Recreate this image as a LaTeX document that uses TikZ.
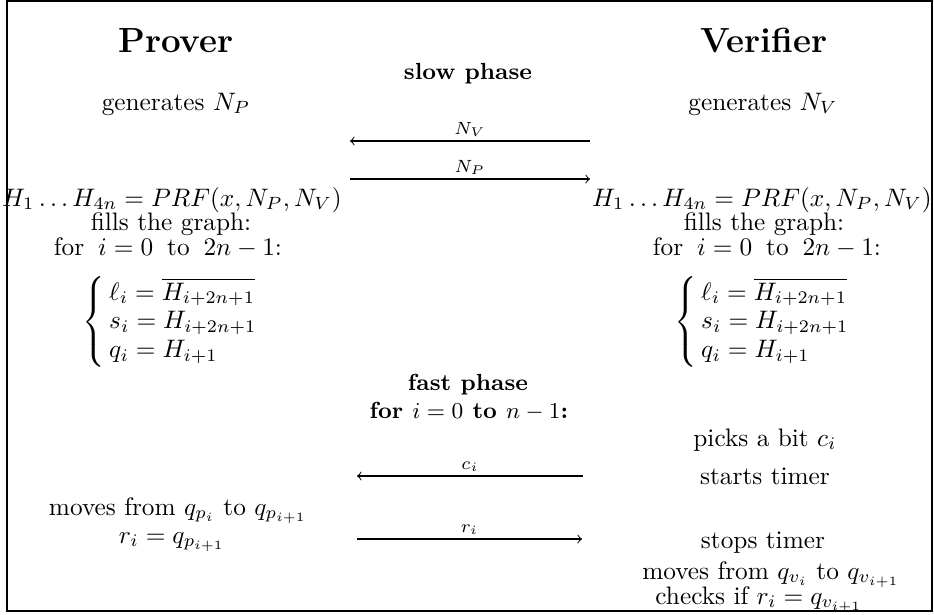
\documentclass[tikz,border=0pt]{standalone}
\usepackage{amsmath}
\newcommand{\graphcases}{$\left\{\,\renewcommand{\arraystretch}{0.95}\begin{array}{@{}l@{}}\ell_i=\overline{H_{i+2n+1}}\\ s_i=H_{i+2n+1}\\ q_i=H_{i+1}\end{array}\right.$}
\newcommand{\forrow}{for\hspace{5.5pt}$i=0$\hspace{5.5pt}to\hspace{5.5pt}$2n-1$:}
\begin{document}
\begin{tikzpicture}[x=0.3953pt,y=-0.3953pt,
  txt/.style={anchor=base,inner sep=0pt,outer sep=0pt},
  ttl/.style={txt,font=\fontsize{13.8}{16}\selectfont\bfseries},
  phase/.style={txt,font=\fontsize{9.2}{11}\selectfont\bfseries},
  msg/.style={->,line width=0.4pt},
  msglbl/.style={font=\scriptsize,inner sep=1.5pt,anchor=south}]
\useasboundingbox (0,0) rectangle (934,615);
\draw[line width=1.15pt] (7,0.5) rectangle (932,611);
% titles
\node[ttl] (prover) at (176,52) {Prover};
\node[ttl] (verifier) at (764,52) {Verifier};
\node[phase] (slow) at (468,79) {slow phase};
\node[txt] (genP) at (176,110) {generates $N_P$};
\node[txt] (genV) at (763,110) {generates $N_V$};
% slow phase messages
\coordinate (nvR) at (590,141);
\coordinate (nvL) at (350,141);
\coordinate (npL) at (350,179);
\coordinate (npR) at (590,179);
\draw[msg] (nvR) -- node[msglbl] (lNV) {$N_V$} (nvL);
\draw[msg] (npL) -- node[msglbl] (lNP) {$N_P$} (npR);
% prover graph
\node[txt] (hP) at (172,206) {$H_1\ldots H_{4n}=PRF(x,N_P,N_V)$};
\node[txt] (fillP) at (171,230) {fills the graph:};
\node[txt] (forP) at (168,255) {\forrow};
\node[inner sep=0pt] (casesP) at (171,322) {\graphcases};
% verifier graph
\node[txt] (hV) at (762,206) {$H_1\ldots H_{4n}=PRF(x,N_P,N_V)$};
\node[txt] (fillV) at (764,230) {fills the graph:};
\node[txt] (forV) at (767,255) {\forrow};
\node[inner sep=0pt] (casesV) at (763,322) {\graphcases};
% fast phase
\node[phase] (fast) at (468,390) {fast phase};
\node[phase] (loop) at (469,418) {for $i=0$ to $n-1$:};
\node[txt] (pick) at (765,446) {picks a bit $c_i$};
\node[txt] (start) at (765,484) {starts timer};
\coordinate (ciR) at (583,476);
\coordinate (ciL) at (357,476);
\draw[msg] (ciR) -- node[msglbl] (lci) {$c_i$} (ciL);
\node[txt] (moveP) at (178,515) {moves from $q_{p_i}$ to $q_{p_{i+1}}$};
\node[txt] (rP) at (172,543) {$r_i=q_{p_{i+1}}$};
\coordinate (riL) at (357,539);
\coordinate (riR) at (582,539);
\draw[msg] (riL) -- node[msglbl] (lri) {$r_i$} (riR);
\node[txt] (stop) at (763,548) {stops timer};
\node[txt] (moveV) at (771,579) {moves from $q_{v_i}$ to $q_{v_{i+1}}$};
\node[txt] (check) at (759,604) {checks if $r_i=q_{v_{i+1}}$};
\end{tikzpicture}
\end{document}
